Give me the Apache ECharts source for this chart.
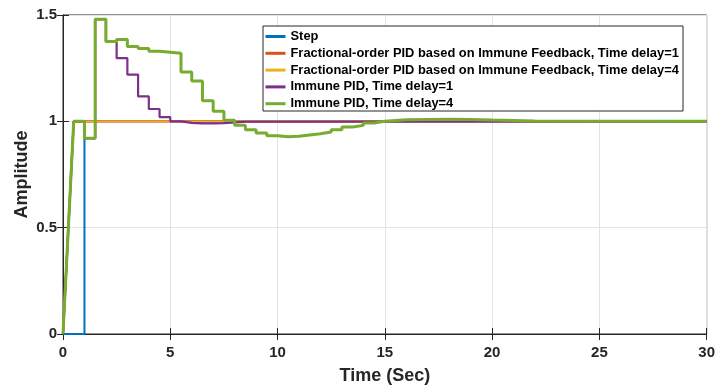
<!DOCTYPE html>
<html>
<head>
<meta charset="utf-8">
<script src="https://cdn.jsdelivr.net/npm/echarts@6/dist/echarts.min.js"></script>
<style>
  html, body { margin: 0; padding: 0; background: #fff; }
  #chart { width: 718px; height: 390px; }
</style>
</head>
<body>
<div id="chart"></div>
<script>
// ---- Data ----
const seriesNames = [
  'Step',
  'Fractional-order PID based on Immune Feedback, Time delay=1',
  'Fractional-order PID based on Immune Feedback, Time delay=4',
  'Immune PID, Time delay=1',
  'Immune PID, Time delay=4'
];
const xTicks = [0, 5, 10, 15, 20, 25, 30];
const yTicks = [0, 0.5, 1, 1.5];

// Step input
const stepT = [0, 1, 1, 30];
const stepV = [0, 0, 1, 1];

// Fractional-order PID (both delays identical in the plot)
const fracT = [0, 0.5, 30];
const frac1V = [0, 1, 1];
const frac4V = [0, 1, 1];

// Immune PID, delay = 1 (held sample values, each held until next time)
const imm1T = [0.5, 1.0, 1.5, 2.0, 2.5, 3.0, 3.5, 4.0, 4.5, 5.0, 5.5, 6.0, 6.5, 7.0, 7.5, 8.0, 8.5, 30];
const imm1V = [1.0, 0.92, 1.48, 1.375, 1.297, 1.22, 1.117, 1.058, 1.02, 1.0, 0.993, 0.99, 0.99, 0.992, 0.995, 0.998, 1.0, 1.0];

// Immune PID, delay = 4
const imm4T = [0.5, 1.0, 1.5, 2.0, 2.5, 3.0, 3.5, 4.0, 4.5, 5.0, 5.5, 6.0, 6.5, 7.0, 7.5, 8.0, 8.5, 9.0, 9.5, 10.0, 10.5, 11.0, 11.5, 12.0, 12.5, 13.0, 13.5, 14.0, 14.5, 15.0, 15.5, 16, 17, 18, 19, 20, 21, 22, 30];
const imm4V = [1.0, 0.92, 1.48, 1.375, 1.385, 1.352, 1.342, 1.33, 1.325, 1.32, 1.232, 1.19, 1.097, 1.047, 1.005, 0.981, 0.961, 0.945, 0.932, 0.928, 0.93, 0.936, 0.942, 0.95, 0.961, 0.973, 0.981, 0.992, 1.0, 1.004, 1.007, 1.009, 1.01, 1.009, 1.006, 1.004, 1.002, 1.0, 1.0];

// ---- Helpers ----
function pairs(t, v) { return t.map((x, i) => [x, v[i]]); }
function holdSeries(t, v) {
  const pts = [[0, 0]];
  for (let i = 0; i < t.length; i++) {
    pts.push([t[i], v[i]]);
    if (i + 1 < t.length) pts.push([t[i + 1], v[i]]);
  }
  return pts;
}

const FONT = "'Liberation Sans', Arial, sans-serif";
const TXT = '#262626';
const colors = ['#0072BD', '#D95319', '#EDB120', '#7E2F8E', '#77AC30'];
const widths = [2, 2.2, 1.6, 2.2, 3];
const dataSets = [
  pairs(stepT, stepV),
  pairs(fracT, frac1V),
  pairs(fracT, frac4V),
  holdSeries(imm1T, imm1V),
  holdSeries(imm4T, imm4V)
];

const chart = echarts.init(document.getElementById('chart'), null, { renderer: 'canvas' });

const gridL = 63, gridT = 15, gridR = 10, gridB = 56;

const option = {
  animation: false,
  backgroundColor: '#fff',
  textStyle: { fontFamily: FONT },
  grid: { left: gridL, top: gridT, right: gridR, bottom: gridB, show: true, borderColor: TXT, borderWidth: 1 },
  legend: {
    orient: 'vertical',
    left: 264, top: 30,
    padding: 0,
    itemWidth: 20, itemHeight: 13, itemGap: 3.8,
    itemStyle: { opacity: 0, borderWidth: 0 },
    lineStyle: { width: 3 },
    textStyle: { fontFamily: FONT, fontWeight: 'bold', fontSize: 12.9, color: '#000' },
    data: seriesNames,
    z: 10
  },
  graphic: [{
    type: 'rect', z: 5, silent: true,
    shape: { x: 263, y: 26, width: 420, height: 85 },
    style: { fill: '#fff', stroke: TXT, lineWidth: 1 }
  }],
  xAxis: [{
    type: 'value', min: 0, max: 30, interval: 5,
    name: 'Time (Sec)', nameLocation: 'middle', nameGap: 33,
    nameTextStyle: { fontFamily: FONT, fontWeight: 'bold', fontSize: 18, color: TXT },
    axisLine: { show: true, lineStyle: { color: TXT, width: 1 } },
    axisTick: { show: true, inside: true, length: 6, lineStyle: { color: TXT } },
    axisLabel: { fontFamily: FONT, fontWeight: 'bold', fontSize: 15, color: TXT, margin: 11 },
    splitLine: { show: true, lineStyle: { color: '#e3e3e3', width: 1 } }
  }, {
    type: 'value', min: 0, max: 30, interval: 5, position: 'top',
    axisLine: { show: true, lineStyle: { color: TXT } },
    axisTick: { show: true, inside: true, length: 6, lineStyle: { color: TXT } },
    axisLabel: { show: false }, splitLine: { show: false }
  }],
  yAxis: [{
    type: 'value', min: 0, max: 1.5, interval: 0.5,
    name: 'Amplitude', nameLocation: 'middle', nameGap: 32, nameMoveOverlap: false,
    nameTextStyle: { fontFamily: FONT, fontWeight: 'bold', fontSize: 18, color: TXT },
    axisLine: { show: true, lineStyle: { color: TXT, width: 1 } },
    axisTick: { show: true, inside: true, length: 6, lineStyle: { color: TXT } },
    axisLabel: { fontFamily: FONT, fontWeight: 'bold', fontSize: 15, color: TXT, margin: 6,
      formatter: v => String(v) },
    splitLine: { show: true, lineStyle: { color: '#e3e3e3', width: 1 } }
  }, {
    type: 'value', min: 0, max: 1.5, interval: 0.5, position: 'right',
    axisLine: { show: true, lineStyle: { color: TXT } },
    axisTick: { show: true, inside: true, length: 6, lineStyle: { color: TXT } },
    axisLabel: { show: false }, splitLine: { show: false }
  }],
  series: dataSets.map((d, i) => ({
    name: seriesNames[i],
    type: 'line',
    data: d,
    xAxisIndex: 0, yAxisIndex: 0,
    showSymbol: false, symbol: 'none',
    clip: true,
    z: 2 + i * 0.01,
    color: colors[i],
    lineStyle: { color: colors[i], width: widths[i] }
  }))
};

chart.setOption(option);
</script>
</body>
</html>
